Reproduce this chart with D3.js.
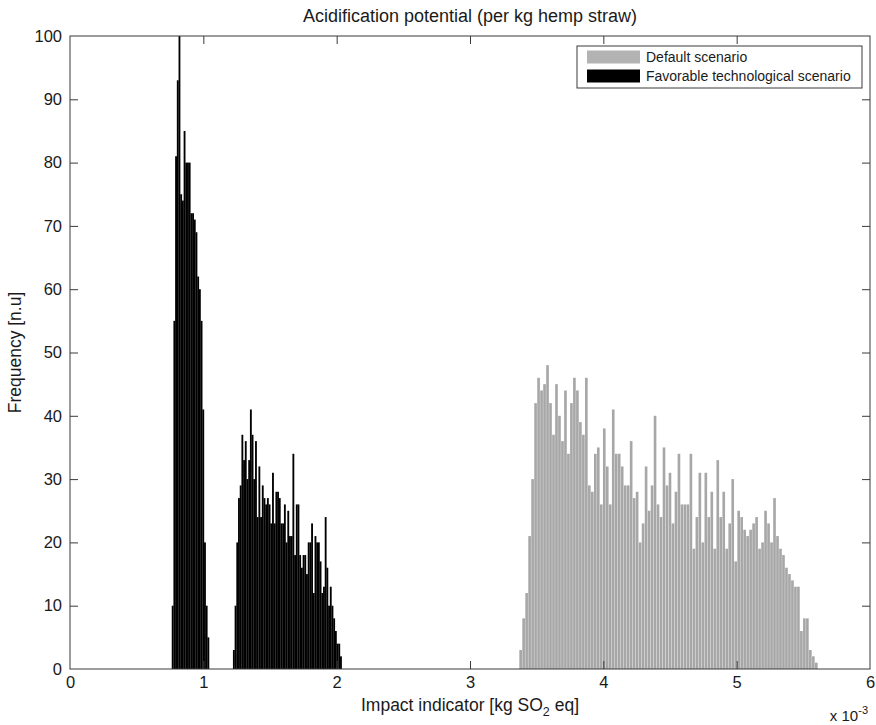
<!DOCTYPE html>
<html>
<head>
<meta charset="utf-8">
<script src="https://cdn.jsdelivr.net/npm/d3@7"></script>
<style>
  html, body { margin: 0; padding: 0; background: #fff; }
  svg { display: block; font-family: "Liberation Sans", Arial, Helvetica, sans-serif; }
</style>
</head>
<body>
<svg id="chart" width="876" height="725"></svg>
<script>
// ---------------- data ----------------
const chartTitle = "Acidification potential (per kg hemp straw)";
const yLabel = "Frequency [n.u]";
const xTicks = [0, 1, 2, 3, 4, 5, 6];
const yTicks = [0, 10, 20, 30, 40, 50, 60, 70, 80, 90, 100];
const seriesNames = ["Default scenario", "Favorable technological scenario"];

// Default scenario histogram (x in units of 1e-3 kg SO2 eq)
const defaultStart = 3.37;
const defaultBinWidth = 0.0224;
const defaultCounts = [
  3, 8, 12, 21, 30, 42, 46, 44, 45, 48,
  42, 37, 45, 40, 36, 44, 34, 42, 46, 44,
  39, 37, 46, 29, 28, 34, 35, 26, 38, 32,
  26, 41, 34, 34, 32, 29, 29, 36, 27, 28,
  20, 23, 32, 25, 29, 40, 26, 24, 35, 29,
  31, 23, 28, 34, 26, 26, 26, 34, 19, 24,
  31, 20, 31, 24, 28, 19, 33, 24, 28, 19,
  23, 30, 17, 25, 24, 22, 21, 22, 23, 24,
  19, 20, 25, 23, 20, 27, 21, 19, 18, 16,
  15, 14, 13, 13, 6, 8, 8, 3, 2, 1
];

// Favorable technological scenario histogram
const favorableStart = 0.763;
const favorableBinWidth = 0.01275;
const favorableCounts = [
  10, 55, 81, 93, 100, 75, 74, 85, 80, 80,
  80, 72, 72, 71, 69, 62, 60, 55, 41, 20,
  10, 5,
  0, 0, 0, 0, 0, 0, 0, 0, 0, 0, 0, 0, 0, 0,
  3, 10, 20, 27, 29, 37, 33, 36, 30, 33,
  41, 37, 30, 36, 24, 32, 24, 29, 27, 26,
  27, 26, 23, 31, 23, 28, 28, 27, 23, 23,
  26, 20, 25, 21, 21, 34, 18, 26, 26, 18,
  16, 18, 18, 15, 20, 20, 23, 12, 21, 20,
  20, 17, 12, 13, 24, 16, 10, 13, 10, 8,
  6, 4, 4, 2
];

// ---------------- layout ----------------
const svg = d3.select("#chart");
const pL = 70, pR = 870, pT = 36, pB = 669;
const x = d3.scaleLinear().domain([0, 6]).range([pL, pR]);
const y = d3.scaleLinear().domain([0, 100]).range([pB, pT]);
const axisColor = "#3a3a3a";
const textColor = "#1a1a1a";
const grayFill = "#a7a7a7";

// bars
function bins(start, width, counts) {
  return counts.map((c, i) => ({ x0: start + i * width, x1: start + (i + 1) * width, c }));
}
const gBars = svg.append("g");
gBars.selectAll("rect.def")
  .data(bins(defaultStart, defaultBinWidth, defaultCounts).filter(d => d.c > 0))
  .join("rect")
  .attr("class", "def")
  .attr("x", d => x(d.x0))
  .attr("width", d => Math.max(0.5, x(d.x1) - x(d.x0) - 0.35))
  .attr("y", d => y(d.c))
  .attr("height", d => y(0) - y(d.c))
  .attr("fill", grayFill);

gBars.selectAll("rect.fav")
  .data(bins(favorableStart, favorableBinWidth, favorableCounts).filter(d => d.c > 0))
  .join("rect")
  .attr("class", "fav")
  .attr("x", d => x(d.x0))
  .attr("width", d => x(d.x1) - x(d.x0) + 0.15)
  .attr("y", d => y(d.c))
  .attr("height", d => y(0) - y(d.c))
  .attr("fill", "#000");

// axes (inward ticks, MATLAB style)
const tickLen = 8;
const axB = svg.append("g").attr("transform", `translate(0,${pB})`)
  .call(d3.axisBottom(x).tickValues(xTicks).tickSize(-tickLen).tickSizeOuter(0).tickPadding(7).tickFormat(d3.format("d")));
const axT = svg.append("g").attr("transform", `translate(0,${pT})`)
  .call(d3.axisTop(x).tickValues(xTicks).tickSize(-tickLen).tickSizeOuter(0).tickFormat(""));
const axL = svg.append("g").attr("transform", `translate(${pL},0)`)
  .call(d3.axisLeft(y).tickValues(yTicks).tickSize(-tickLen).tickSizeOuter(0).tickPadding(8).tickFormat(d3.format("d")));
const axR = svg.append("g").attr("transform", `translate(${pR},0)`)
  .call(d3.axisRight(y).tickValues(yTicks).tickSize(-tickLen).tickSizeOuter(0).tickFormat(""));
[axB, axT, axL, axR].forEach(a => {
  a.select(".domain").remove();
  a.selectAll(".tick line").attr("stroke", axisColor);
  a.selectAll(".tick text").attr("fill", textColor).attr("font-size", 16.5)
    .attr("font-family", "Liberation Sans, Arial, Helvetica, sans-serif");
});
axB.selectAll(".tick").filter(d => d === 0 || d === 6).select("line").remove();
axT.selectAll(".tick").filter(d => d === 0 || d === 6).select("line").remove();
axL.selectAll(".tick").filter(d => d === 0 || d === 100).select("line").remove();
axR.selectAll(".tick").filter(d => d === 0 || d === 100).select("line").remove();

// frame
svg.append("rect")
  .attr("x", pL).attr("y", pT)
  .attr("width", pR - pL).attr("height", pB - pT)
  .attr("fill", "none").attr("stroke", axisColor).attr("stroke-width", 1);

// title
svg.append("text")
  .attr("x", (pL + pR) / 2).attr("y", 22)
  .attr("text-anchor", "middle").attr("font-size", 18).attr("fill", textColor)
  .text(chartTitle);

// y label
svg.append("text")
  .attr("transform", `translate(21,${(pT + pB) / 2}) rotate(-90)`)
  .attr("text-anchor", "middle").attr("font-size", 17.5).attr("fill", textColor)
  .text(yLabel);

// x label with subscript
const xl = svg.append("text")
  .attr("x", (pL + pR) / 2).attr("y", 711)
  .attr("text-anchor", "middle").attr("font-size", 17.5).attr("fill", textColor);
xl.append("tspan").text("Impact indicator [kg SO");
xl.append("tspan").attr("dy", 5).attr("font-size", 12.5).text("2");
xl.append("tspan").attr("dy", -5).text(" eq]");

// exponent label
const ex = svg.append("text")
  .attr("x", 868).attr("y", 721)
  .attr("text-anchor", "end").attr("font-size", 15).attr("fill", textColor);
ex.append("tspan").text("x 10");
ex.append("tspan").attr("dy", -7).attr("font-size", 11).text("-3");

// legend
const lg = svg.append("g");
lg.append("rect")
  .attr("x", 577).attr("y", 46).attr("width", 285).attr("height", 42)
  .attr("fill", "#fff").attr("stroke", axisColor).attr("stroke-width", 1);
const legendColors = ["#b3b3b3", "#000"];
seriesNames.forEach((name, i) => {
  const cy = 57 + i * 19;
  lg.append("rect").attr("x", 587).attr("y", cy - 6.5).attr("width", 53).attr("height", 13)
    .attr("fill", legendColors[i]);
  lg.append("text").attr("x", 646).attr("y", cy + 5)
    .attr("font-size", 14).attr("fill", textColor).text(name);
});
</script>
</body>
</html>
